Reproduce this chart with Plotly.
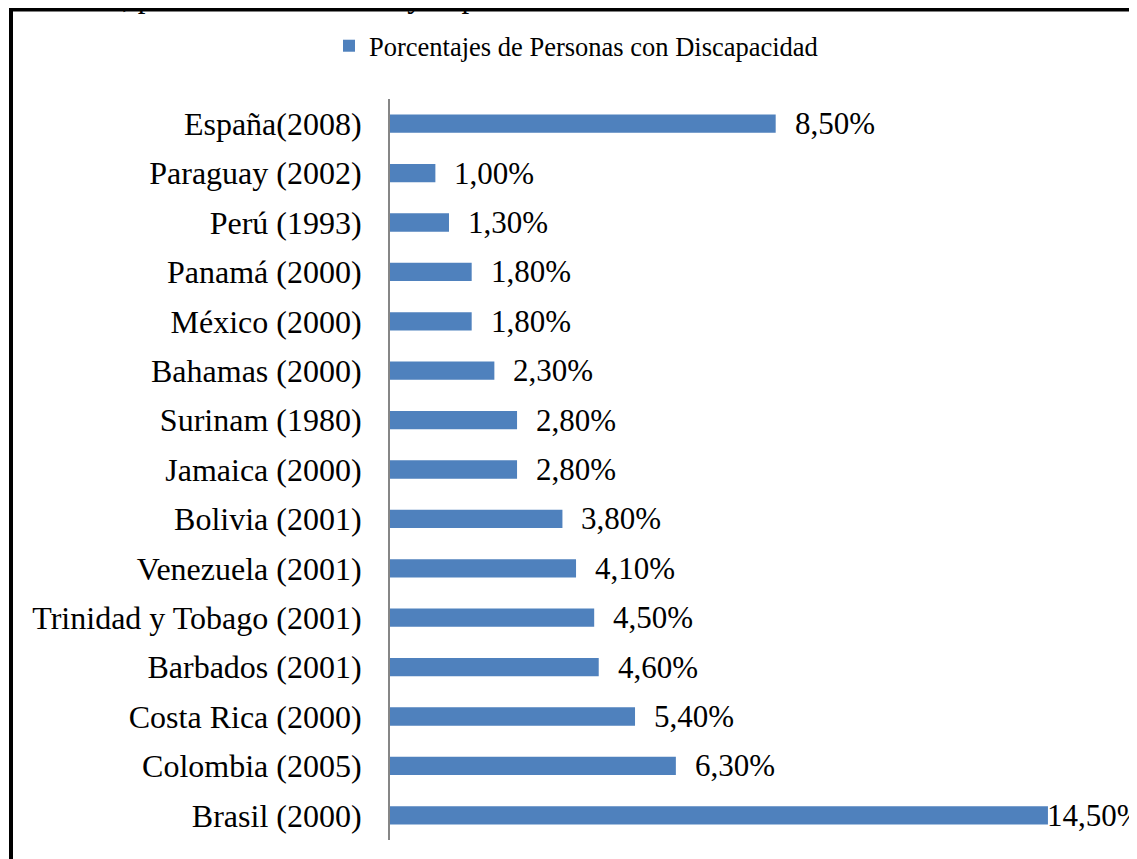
import plotly.graph_objects as go

categories = [
    "España(2008)", "Paraguay (2002)", "Perú (1993)", "Panamá (2000)",
    "México (2000)", "Bahamas (2000)", "Surinam (1980)", "Jamaica (2000)",
    "Bolivia (2001)", "Venezuela (2001)", "Trinidad y Tobago (2001)",
    "Barbados (2001)", "Costa Rica (2000)", "Colombia (2005)", "Brasil (2000)",
]
values = [8.5, 1.0, 1.3, 1.8, 1.8, 2.3, 2.8, 2.8, 3.8, 4.1, 4.5, 4.6, 5.4, 6.3, 14.5]
labels = ["8,50%", "1,00%", "1,30%", "1,80%", "1,80%", "2,30%", "2,80%", "2,80%",
          "3,80%", "4,10%", "4,50%", "4,60%", "5,40%", "6,30%", "14,50%"]
series_name = "Porcentajes de Personas con Discapacidad"
caption = "Colombia, países de Suramérica y España"

# page body has an 8px margin; compensate so the plot lands where the reference has it
OFF = 8
W, H = 1137, 859
PL, PR, PT, PB = 390, 1116, 99, 840          # plot area in page pixels
L, T = PL - OFF, PT - OFF
R, B = (W + OFF) - PR, (H + OFF) - PB
pw, ph = PR - PL, PB - PT

def px_x(p):
    return (p - PL) / pw

def px_y(p):
    return 1 - (p - PT) / ph

FONT = "Liberation Serif"

fig = go.Figure()
fig.add_trace(go.Bar(
    y=categories, x=values, orientation="h", name=series_name,
    marker=dict(color="#4F81BD", line=dict(width=0)),
    showlegend=True, hoverinfo="skip",
))

vmax = max(values)
for c, v, t in zip(categories, values, labels):
    fig.add_annotation(
        x=v, y=c, xref="x", yref="y", text=t, showarrow=False,
        xanchor="left", yanchor="middle", xshift=(-3 if v == vmax else 17), yshift=0,
        font=dict(family=FONT, size=31, color="#000000"),
    )

# caption (cut off at top of the page)
fig.add_annotation(
    x=px_x(-2), y=px_y(16), xref="paper", yref="paper", text=caption,
    showarrow=False, xanchor="left", yanchor="bottom",
    font=dict(family=FONT, size=31, color="#000000"),
)

# chart border
fig.add_shape(type="rect", xref="paper", yref="paper",
              x0=px_x(11), x1=px_x(W + 30), y0=px_y(9.5), y1=px_y(H + 30),
              line=dict(color="#000000", width=4), fillcolor="rgba(0,0,0,0)")

fig.update_layout(
    width=W, height=H,
    margin=dict(l=L, r=R, t=T, b=B, pad=0),
    paper_bgcolor="#ffffff", plot_bgcolor="#ffffff",
    bargap=0.63,
    font=dict(family=FONT, color="#000000"),
    showlegend=True,
    legend=dict(
        orientation="h", x=px_x(329), y=px_y(46), xanchor="left", yanchor="middle",
        font=dict(family=FONT, size=26.5, color="#000000"),
        bgcolor="rgba(0,0,0,0)",
    ),
    xaxis=dict(range=[0, 16], visible=False, showgrid=False, zeroline=False, fixedrange=True),
    yaxis=dict(
        autorange="reversed", showgrid=False, zeroline=False,
        showline=True, linecolor="#868686", linewidth=2,
        ticks="", ticklabelstandoff=20,
        tickfont=dict(family=FONT, size=32, color="#000000"),
    ),
)

fig.write_html("out.html")
